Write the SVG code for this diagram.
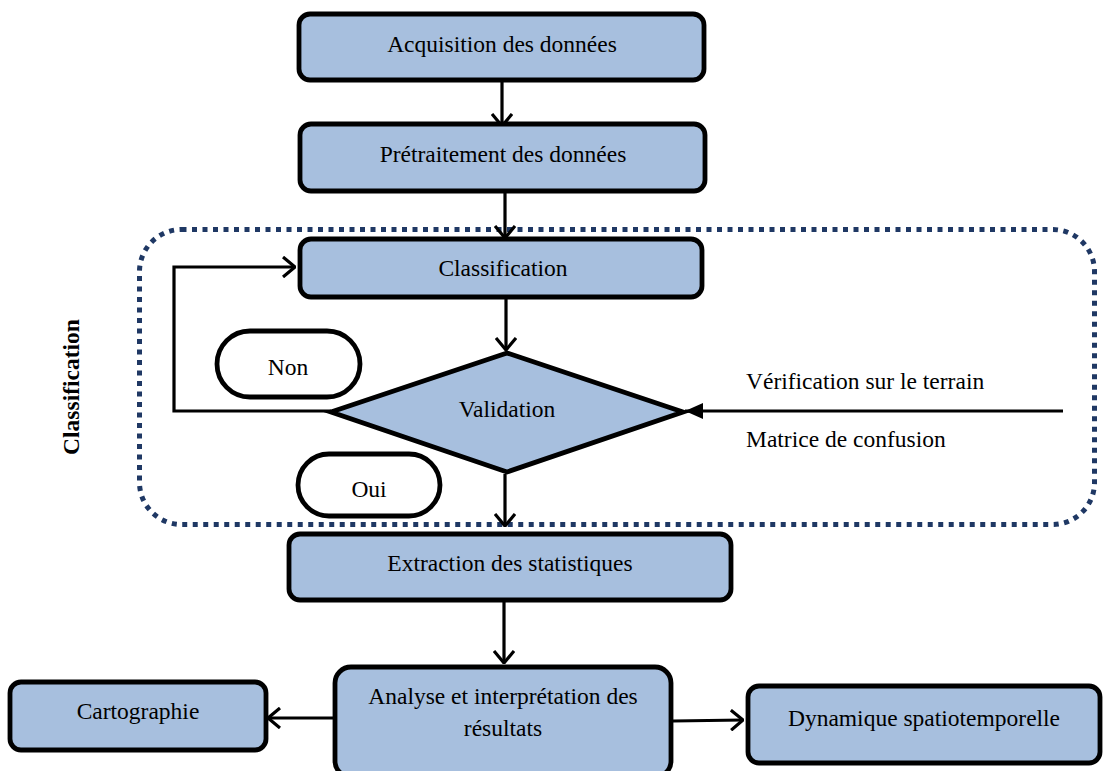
<svg xmlns="http://www.w3.org/2000/svg" width="1104" height="771" viewBox="0 0 1104 771">
<defs>
<style>
.box{fill:#a7bfde;stroke:#000;stroke-width:4.8}
.pill{fill:#fff;stroke:#000;stroke-width:4.8}
.t{font-family:"Liberation Serif","Times New Roman",serif;font-size:23.5px;fill:#000}
.c{text-anchor:middle}
.ln{fill:none;stroke:#000;stroke-width:3.2}
</style>
<marker id="open" viewBox="0 0 14 22" refX="13" refY="11" markerWidth="14" markerHeight="22" markerUnits="userSpaceOnUse" orient="auto">
<path d="M1,1 L13,11 L1,21" fill="none" stroke="#000" stroke-width="3.2"/>
</marker>
<marker id="fill" viewBox="0 0 20 18" refX="19" refY="9" markerWidth="20" markerHeight="18" markerUnits="userSpaceOnUse" orient="auto">
<path d="M1,1 L19,9 L1,17 Z" fill="#000"/>
</marker>
</defs>
<rect width="1104" height="771" fill="#fff"/>

<g id="group-classification">
<rect x="139.5" y="229.5" width="955" height="295" rx="42" fill="none" stroke="#1f3864" stroke-width="5" stroke-dasharray="5 5.5"/>
<text class="t" font-weight="bold" transform="translate(79,387) rotate(-90)" text-anchor="middle">Classification</text>
</g>

<g id="connectors">
<line class="ln" x1="502" y1="82" x2="502" y2="126" marker-end="url(#open)"/>
<line class="ln" x1="505" y1="193" x2="505" y2="238" marker-end="url(#open)"/>
<polyline class="ln" points="331,411 174,411 174,267 295,267" marker-end="url(#open)"/>
<line class="ln" x1="506" y1="299" x2="506" y2="350" marker-end="url(#open)"/>
<line class="ln" x1="1063" y1="411" x2="685" y2="411" marker-end="url(#fill)"/>
<line class="ln" x1="505" y1="474" x2="505" y2="526" marker-end="url(#open)"/>
<line class="ln" x1="504" y1="602" x2="504" y2="663" marker-end="url(#open)"/>
<line class="ln" x1="333" y1="718" x2="268" y2="718" marker-end="url(#open)"/>
<line class="ln" x1="673" y1="721" x2="743" y2="720" marker-end="url(#open)"/>
</g>

<g id="node-acquisition">
<rect class="box" x="299" y="14" width="405" height="66" rx="11"/>
<text class="t c" x="502" y="52">Acquisition des données</text>
</g>
<g id="node-pretraitement">
<rect class="box" x="300" y="124" width="405" height="67" rx="11"/>
<text class="t c" x="503" y="162">Prétraitement des données</text>
</g>
<g id="node-classification">
<rect class="box" x="300" y="239" width="402" height="58" rx="11"/>
<text class="t c" x="503" y="276">Classification</text>
</g>
<g id="node-validation">
<polygon class="box" points="507,353 683,412 507,472 331,412"/>
<text class="t c" x="507" y="417">Validation</text>
</g>
<g id="node-non">
<rect class="pill" x="217" y="331" width="143" height="66" rx="33"/>
<text class="t c" x="288" y="375">Non</text>
</g>
<g id="node-oui">
<rect class="pill" x="298" y="454" width="142" height="62" rx="31"/>
<text class="t c" x="369" y="497">Oui</text>
</g>
<g id="label-verification">
<text class="t" x="746" y="389">Vérification sur le terrain</text>
<text class="t" x="746" y="447">Matrice de confusion</text>
</g>
<g id="node-extraction">
<rect class="box" x="289" y="534" width="442" height="66" rx="11"/>
<text class="t c" x="510" y="571">Extraction des statistiques</text>
</g>
<g id="node-analyse">
<rect class="box" x="335" y="667" width="336" height="110" rx="16"/>
<text class="t c" x="503" y="704">Analyse et interprétation des</text>
<text class="t c" x="503" y="736">résultats</text>
</g>
<g id="node-cartographie">
<rect class="box" x="10" y="682" width="256" height="68" rx="11"/>
<text class="t c" x="138" y="719">Cartographie</text>
</g>
<g id="node-dynamique">
<rect class="box" x="748" y="686" width="352" height="77" rx="11"/>
<text class="t c" x="924" y="726">Dynamique spatiotemporelle</text>
</g>
</svg>
